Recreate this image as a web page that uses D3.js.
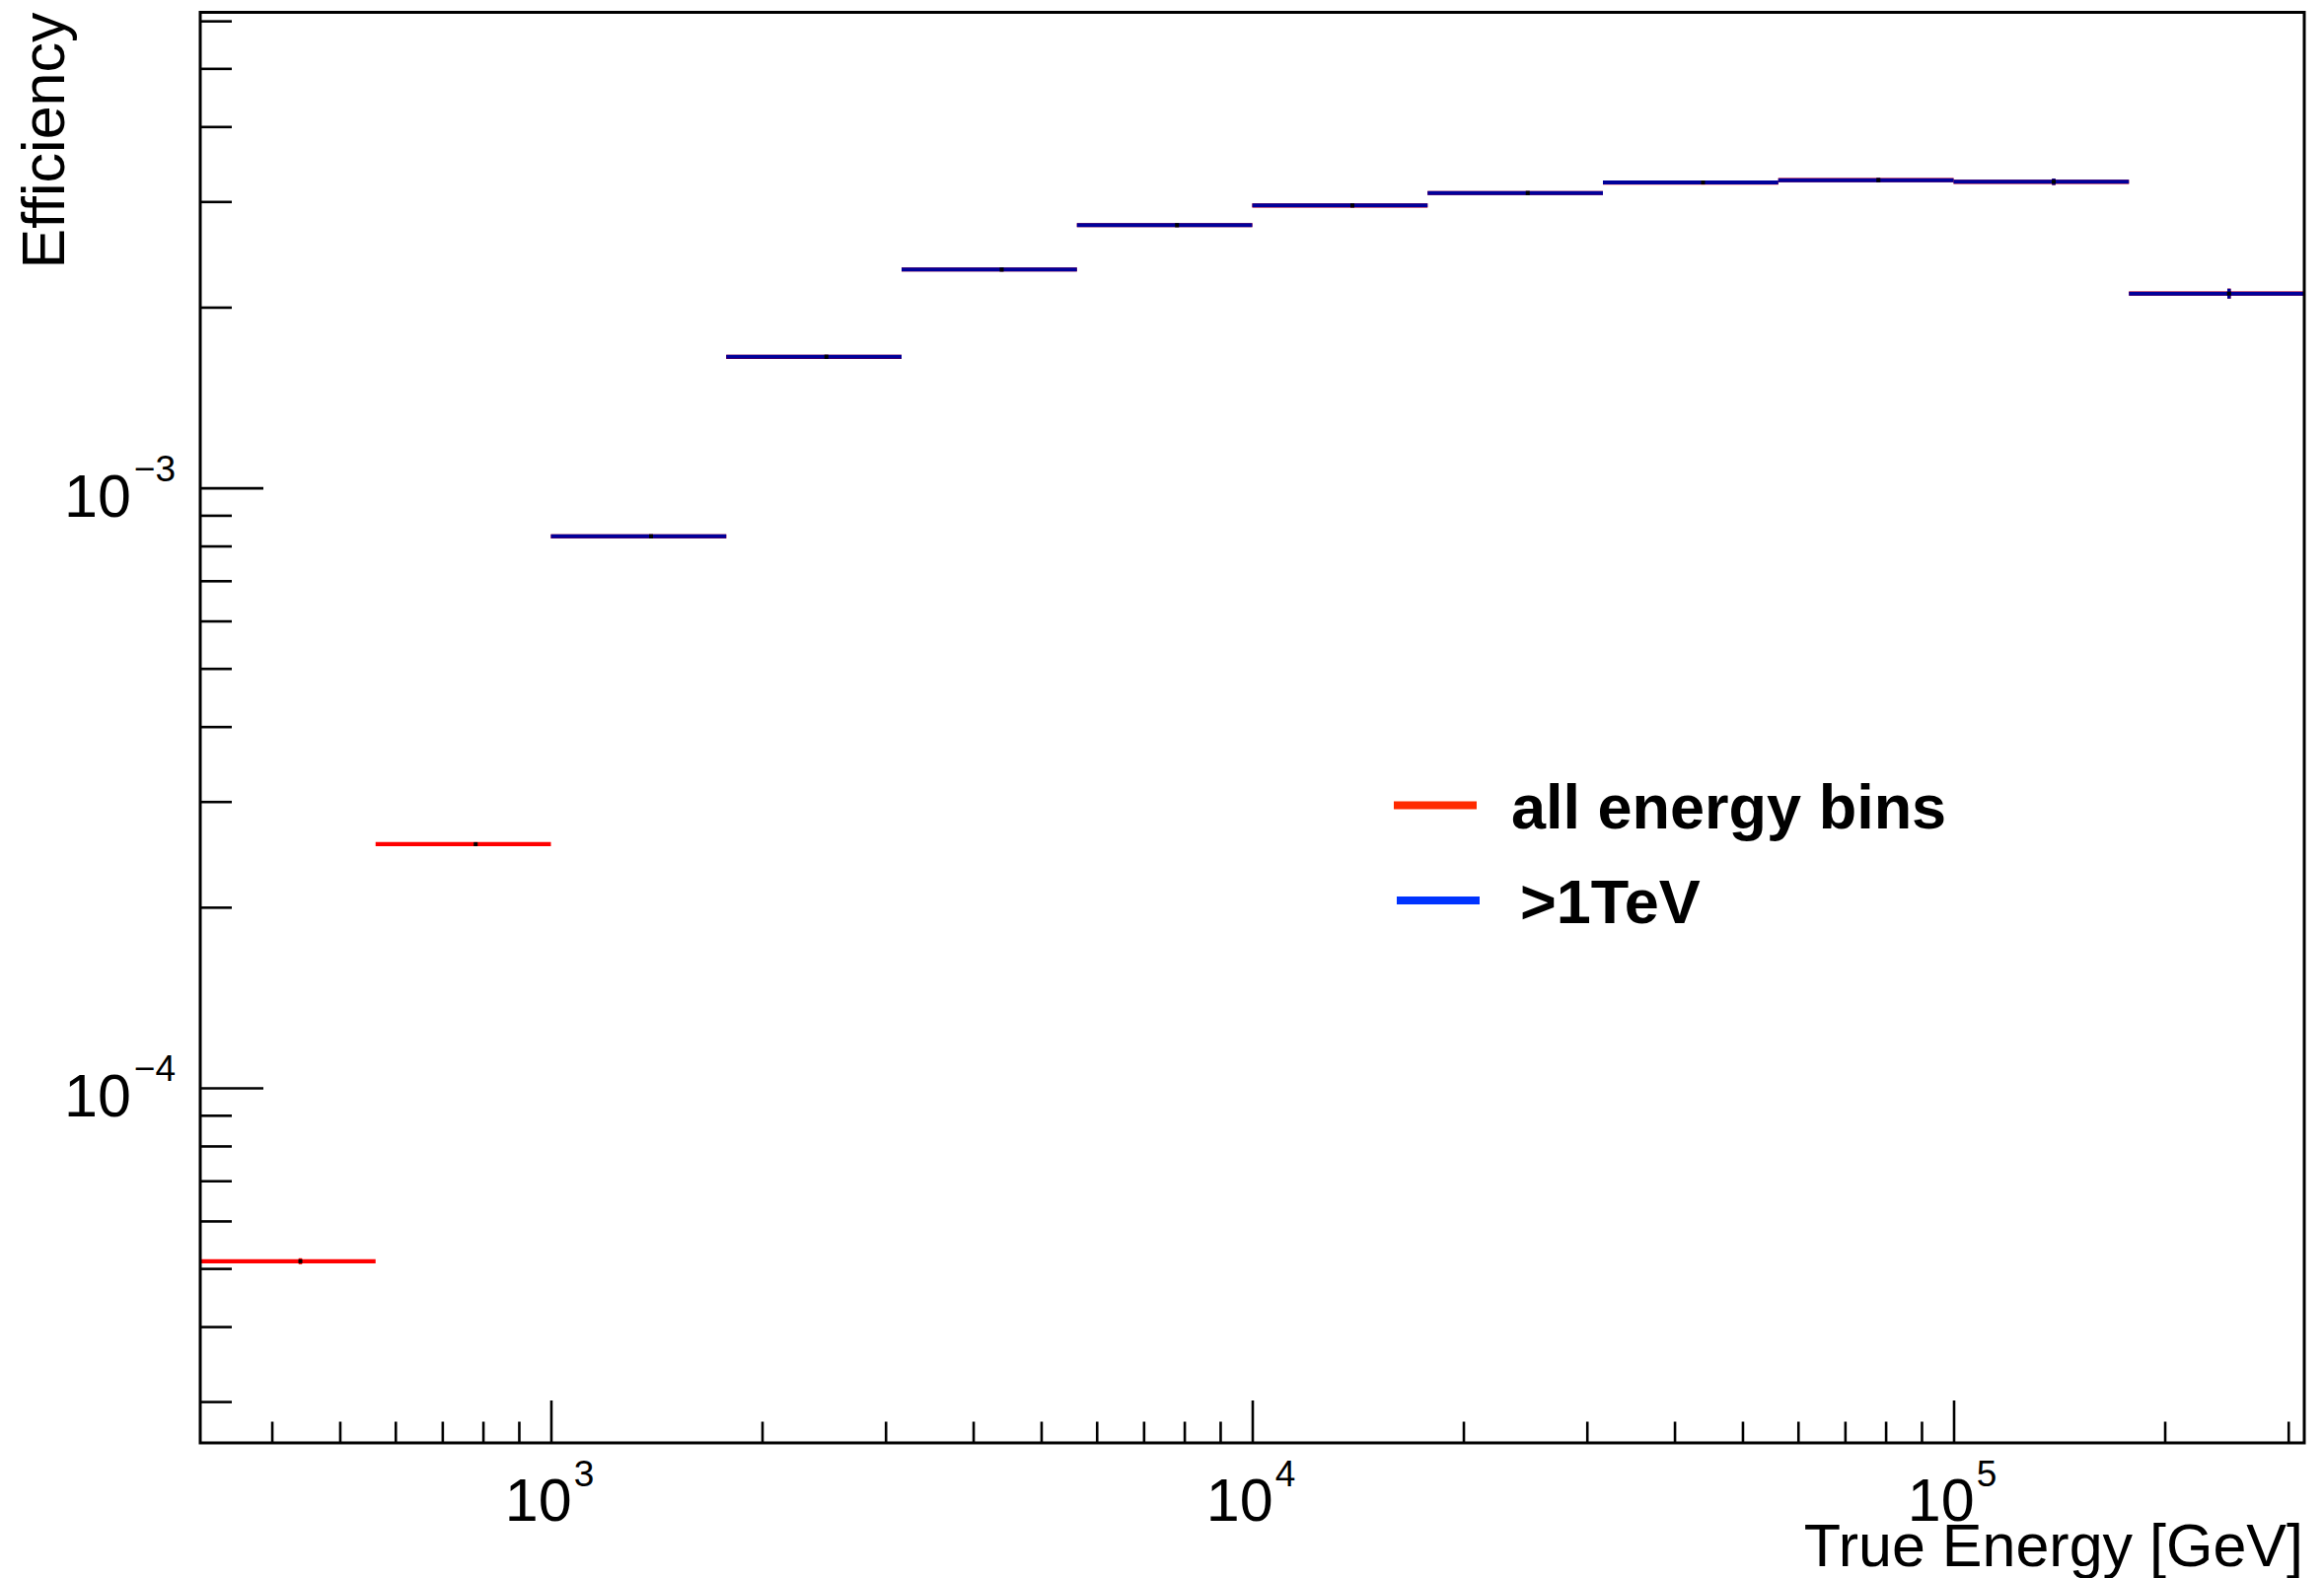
<!DOCTYPE html>
<html><head><meta charset="utf-8">
<script src="https://cdn.jsdelivr.net/npm/d3@7"></script>
<style>body{margin:0;background:#fff}svg{display:block}</style>
</head><body>
<svg id="c" width="2356" height="1600"></svg>
<script>
// ---- data ----
const binEdges = [316.23, 562.34, 1000, 1778.3, 3162.3, 5623.4, 10000, 17783, 31623, 56234, 100000, 177828, 316228];
const allBinsEff = [5.14e-5, 2.547e-4, 8.30e-4, 1.653e-3, 2.311e-3, 2.740e-3, 2.955e-3, 3.099e-3, 3.227e-3, 3.256e-3, 3.236e-3, 2.107e-3];
const allBinsErr = [6e-7, 2e-6, 4e-6, 6e-6, 8e-6, 9e-6, 1e-5, 1.2e-5, 1.5e-5, 2.5e-5, 4e-5, 4e-5];
const above1TeVEff = [null, null, 8.30e-4, 1.653e-3, 2.311e-3, 2.740e-3, 2.955e-3, 3.099e-3, 3.227e-3, 3.256e-3, 3.236e-3, 2.107e-3];
const above1TeVErr = [null, null, 4e-6, 6e-6, 8e-6, 9e-6, 1e-5, 1.2e-5, 1.5e-5, 2.5e-5, 4e-5, 4e-5];
const xMajorTicks = [1e3, 1e4, 1e5];
const xMajorExp = ["3", "4", "5"];
const xMinorTicks = [400, 500, 600, 700, 800, 900, 2000, 3000, 4000, 5000, 6000, 7000, 8000, 9000,
  20000, 30000, 40000, 50000, 60000, 70000, 80000, 90000, 200000, 300000];
const yMajorTicks = [1e-4, 1e-3];
const yMajorExp = ["\u22124", "\u22123"];
const yMinorTicks = [3e-5, 4e-5, 5e-5, 6e-5, 7e-5, 8e-5, 9e-5, 2e-4, 3e-4, 4e-4, 5e-4, 6e-4, 7e-4, 8e-4, 9e-4,
  2e-3, 3e-3, 4e-3, 5e-3, 6e-3];
const legendLabels = ["all energy bins", ">1TeV"];
const xTitle = "True Energy [GeV]";
const yTitle = "Efficiency";

// ---- layout ----
const FONT = "'Liberation Sans', Arial, Helvetica, sans-serif";
const L = 203, R = 2336, T = 12.5, B = 1463;
const svg = d3.select("#c");
svg.append("rect").attr("width", 2356).attr("height", 1600).attr("fill", "#fff");

const x = d3.scaleLog().domain([316.228, 316228]).range([L, R]);
const y = d3.scaleLog().domain([2.56e-5, 6.2e-3]).range([B, T]);

// ---- axes ----
function styleAxis(g) {
  g.select(".domain").remove();
  g.selectAll(".tick line").attr("stroke", "#000").attr("stroke-width", 2.6);
}
// x minor
svg.append("g").attr("transform", `translate(0,${B})`)
  .call(d3.axisBottom(x).tickValues(xMinorTicks).tickSize(-21.5).tickFormat(() => ""))
  .call(styleAxis);
// x major
const gx = svg.append("g").attr("transform", `translate(0,${B})`)
  .call(d3.axisBottom(x).tickValues(xMajorTicks).tickSize(-43).tickFormat(() => ""))
  .call(styleAxis);
gx.selectAll(".tick text").each(function(d, i) {
  const t = d3.select(this);
  t.text(null).attr("x", -2).attr("y", 79).attr("dy", null).attr("fill", "#000")
    .attr("font-family", FONT).attr("font-size", 61).attr("text-anchor", "middle");
  t.append("tspan").text("10");
  t.append("tspan").attr("dx", 2).attr("dy", -35).attr("font-size", 37).text(xMajorExp[i]);
});
// y minor
svg.append("g").attr("transform", `translate(${L},0)`)
  .call(d3.axisLeft(y).tickValues(yMinorTicks).tickSize(-32).tickFormat(() => ""))
  .call(styleAxis);
// y major
const gy = svg.append("g").attr("transform", `translate(${L},0)`)
  .call(d3.axisLeft(y).tickValues(yMajorTicks).tickSize(-64).tickPadding(25).tickFormat(() => ""))
  .call(styleAxis);
gy.selectAll(".tick text").each(function(d, i) {
  const t = d3.select(this);
  t.text(null).attr("x", -25).attr("y", 29).attr("dy", null).attr("fill", "#000")
    .attr("font-family", FONT).attr("font-size", 61).attr("text-anchor", "end");
  t.append("tspan").text("10");
  t.append("tspan").attr("dx", 3).attr("dy", -36).attr("font-size", 37).text(yMajorExp[i]);
});

// axis titles
svg.append("text").attr("x", R - 1).attr("y", 1588).attr("text-anchor", "end")
  .attr("font-family", FONT).attr("font-size", 61).attr("fill", "#000").text(xTitle);
svg.append("text").attr("transform", `translate(65,${T}) rotate(-90)`).attr("text-anchor", "end")
  .attr("font-family", FONT).attr("font-size", 61).attr("fill", "#000").text(yTitle);

// ---- histograms ----
const bins = d3.range(binEdges.length - 1).map(i => ({
  lo: binEdges[i], hi: binEdges[i + 1], c: (binEdges[i] + binEdges[i + 1]) / 2
}));
function drawHist(vals, errs, color, width) {
  const data = bins.map((b, i) => ({ ...b, v: vals[i], e: errs[i] })).filter(d => d.v != null);
  const g = svg.append("g");
  g.selectAll("line.h").data(data).join("line").attr("class", "h")
    .attr("x1", d => x(d.lo)).attr("x2", d => x(d.hi))
    .attr("y1", d => y(d.v)).attr("y2", d => y(d.v))
    .attr("stroke", color).attr("stroke-width", width);
  g.selectAll("line.e").data(data).join("line").attr("class", "e")
    .attr("x1", d => x(d.c)).attr("x2", d => x(d.c))
    .attr("y1", d => y(d.v - d.e)).attr("y2", d => y(d.v + d.e))
    .attr("stroke", color).attr("stroke-width", 3.5);
  g.selectAll("rect.m").data(data).join("rect").attr("class", "m")
    .attr("x", d => x(d.c) - 2).attr("y", d => y(d.v) - 2)
    .attr("width", 4).attr("height", 4).attr("fill", "#000");
}
drawHist(allBinsEff, allBinsErr, "#ff0000", 4.2);
drawHist(above1TeVEff, above1TeVErr, "#00009a", 4);

// ---- frame ----
svg.append("rect").attr("x", L).attr("y", T).attr("width", R - L).attr("height", B - T)
  .attr("fill", "none").attr("stroke", "#000").attr("stroke-width", 3);

// ---- legend ----
const legColors = ["#ff2a00", "#0033ff"];
const legLineY = [816.5, 913];
const legTextY = [840, 936];
const legTextX = [1532, 1541];
const leg = svg.append("g");
legendLabels.forEach((lab, i) => {
  leg.append("line").attr("x1", 1413 + i * 3).attr("x2", 1497 + i * 3)
    .attr("y1", legLineY[i]).attr("y2", legLineY[i])
    .attr("stroke", legColors[i]).attr("stroke-width", 8);
  leg.append("text").attr("x", legTextX[i]).attr("y", legTextY[i])
    .attr("font-family", FONT).attr("font-weight", "bold").attr("font-size", 63)
    .attr("fill", "#000").text(lab);
});
</script>
</body></html>
